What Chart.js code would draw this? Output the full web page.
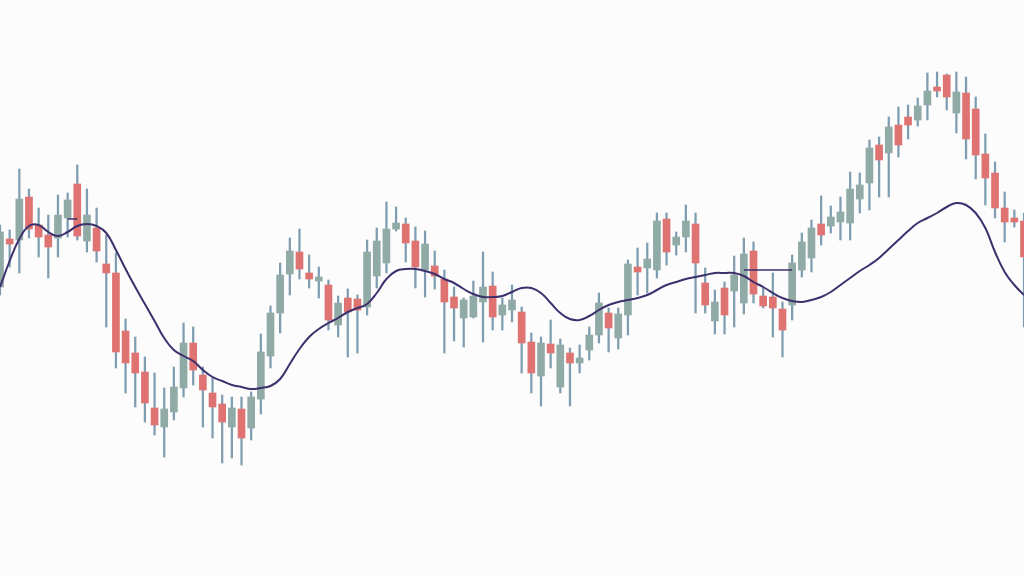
<!DOCTYPE html>
<html>
<head>
<meta charset="utf-8">
<script src="https://cdn.jsdelivr.net/npm/chart.js@4/dist/chart.umd.min.js"></script>
<style>
  html, body { margin: 0; padding: 0; background: #fcfcfd; }
  #wrap { width: 1024px; height: 576px; position: relative; }
</style>
</head>
<body>
<div id="wrap"><canvas id="c"></canvas></div>
<script>
const openP = [131.3,136.1,136.0,140.3,137.5,136.5,136.2,138.2,141.6,135.9,137.2,133.6,132.7,126.9,124.7,122.8,119.2,117.3,118.8,121.2,125.7,122.5,120.7,119.6,117.3,119.1,117.2,120.1,124.4,128.7,132.6,134.8,132.7,131.9,131.5,127.5,130.2,130.1,129.3,132.4,133.7,137.1,137.6,135.9,133.0,133.4,132.1,130.3,128.2,128.3,129.8,131.4,128.5,129.0,128.8,125.8,122.4,125.6,121.3,124.7,123.7,125.0,126.5,128.7,126.2,128.5,133.3,133.2,133.0,138.1,135.5,136.3,137.6,131.7,127.9,131.2,130.9,129.7,134.9,130.4,130.3,129.1,129.5,133.0,134.2,137.6,137.4,137.8,137.7,140.1,141.7,145.5,144.7,147.5,148.3,148.0,149.5,151.3,152.5,148.7,150.7,149.1,144.6,142.7,139.2,138.2,137.9];
const highP = [137.5,137.0,143.1,141.1,139.2,138.5,140.5,140.7,143.5,141.1,139.2,136.5,134.7,128.1,126.3,124.3,122.7,121.2,123.3,127.7,127.3,123.3,122.2,120.5,120.3,120.3,120.8,126.6,129.4,133.7,136.2,137.1,134.5,133.3,132.0,130.4,131.1,130.5,136.0,137.2,139.8,139.3,138.2,137.3,136.9,134.9,133.0,131.3,130.2,131.9,134.8,132.8,130.2,131.5,129.3,126.7,126.3,128.0,126.1,125.2,125.5,127.3,130.7,129.2,129.2,134.0,135.2,135.7,138.7,138.7,136.8,139.5,138.7,133.2,131.0,131.8,134.4,136.2,135.8,131.3,132.7,129.8,134.5,136.7,138.0,140.4,139.4,140.3,142.8,142.7,146.0,146.3,148.3,149.3,149.5,150.2,152.7,152.8,152.6,152.8,152.3,150.3,146.6,143.8,140.8,139.0,138.7];
const lowP = [130.5,133.3,132.7,136.2,134.3,132.2,134.3,136.3,136.0,134.8,133.8,127.3,123.2,120.7,119.3,117.8,116.5,114.3,118.0,120.3,121.5,117.3,116.2,113.7,114.2,113.5,116.0,118.6,123.2,126.7,130.5,132.1,131.2,130.2,127.0,126.3,124.3,124.7,128.5,131.2,132.7,136.9,133.8,131.2,130.3,131.1,124.7,125.9,125.3,128.2,125.8,127.0,127.0,127.8,122.7,120.7,119.4,123.2,120.7,119.4,122.7,124.0,125.7,124.8,125.1,126.5,130.5,130.7,132.2,133.5,134.5,134.8,128.7,128.7,126.6,126.6,127.3,128.6,129.7,129.2,126.3,124.3,128.0,132.3,132.8,135.5,136.7,136.0,136.0,138.7,139.0,140.3,140.3,144.3,146.1,147.4,148.0,150.3,149.0,146.7,144.1,142.1,139.5,138.2,135.8,137.3,127.3];
const closeP = [136.8,135.6,140.1,137.1,136.3,135.3,138.5,140.0,136.4,138.5,134.9,132.7,124.8,123.7,122.7,119.7,117.5,119.1,121.3,125.7,123.0,121.0,119.3,117.8,119.2,116.2,120.3,124.8,128.7,132.5,134.9,133.1,132.1,132.3,128.0,129.7,128.8,129.0,134.8,135.9,137.1,137.7,135.7,133.3,135.6,132.4,129.8,129.2,130.0,130.4,131.3,128.3,129.5,130.0,125.7,122.7,125.7,124.7,125.5,123.7,124.2,126.5,129.7,127.2,128.6,133.6,132.8,134.1,137.9,134.8,136.3,137.9,133.7,129.5,129.8,128.5,132.5,134.6,130.6,129.4,129.2,127.0,133.7,135.8,137.2,136.5,138.3,138.8,141.1,141.5,145.2,144.0,147.3,145.5,147.5,149.4,150.9,150.9,150.3,150.8,146.1,144.5,142.2,139.2,137.8,137.8,134.3];
const movingAvg = [131.3,133.9,136.1,137.4,137.5,136.8,136.4,136.8,137.4,137.6,137.4,136.7,135.0,133.1,131.3,129.6,127.9,126.2,125.0,124.4,123.9,123.0,122.3,121.9,121.5,121.3,121.1,121.2,121.4,122.1,123.6,125.1,126.3,127.1,127.7,128.2,128.8,129.2,129.6,130.7,132.1,132.9,133.1,133.1,132.9,132.6,132.1,131.7,131.1,130.6,130.3,130.3,130.4,130.8,131.2,131.2,130.7,129.7,128.7,128.1,128.0,128.4,129.0,129.5,129.8,130.0,130.2,130.5,131.0,131.5,131.8,132.1,132.3,132.5,132.7,132.7,132.7,132.4,131.8,131.3,130.7,130.2,129.9,129.8,130.0,130.3,130.8,131.5,132.2,132.9,133.5,134.2,135.1,136.0,136.9,137.7,138.2,138.7,139.3,139.7,139.5,138.7,137.2,134.8,132.8,131.5,130.5];
// short flat stray segments of the average line visible in the picture
const flatSegments = {7: 138.1, 8: 138.1, 77: 133.0, 78: 133.0, 79: 133.0, 80: 133.0, 81: 133.0, 82: 133.0};

const categories = openP.map((_, i) => 'Day ' + (i + 1));
const segmentSeries = categories.map((_, i) => (i in flatSegments ? flatSegments[i] : null));

const UP_BODY = '#90aaa5';
const DOWN_BODY = '#df7371';
const WICK = '#7f9db0';

const bodies = openP.map((o, i) => [o, closeP[i]]);
const wicks = lowP.map((l, i) => [l, highP[i]]);
const bodyColors = openP.map((o, i) => (closeP[i] >= o ? UP_BODY : DOWN_BODY));

new Chart(document.getElementById('c'), {
  type: 'bar',
  data: {
    labels: categories,
    datasets: [
      {
        type: 'line',
        label: 'Moving average',
        data: movingAvg,
        borderColor: '#3d306c',
        borderWidth: 2,
        pointRadius: 0,
        tension: 0.45,
        fill: false,
        order: 0
      },
      {
        type: 'line',
        label: 'Segment',
        data: segmentSeries,
        borderColor: '#3d306c',
        borderWidth: 1.6,
        pointRadius: 0,
        spanGaps: false,
        fill: false,
        order: 0
      },
      {
        label: 'Body',
        data: bodies,
        backgroundColor: bodyColors,
        borderWidth: 0,
        barThickness: 7,
        grouped: false,
        order: 1
      },
      {
        label: 'Wick',
        data: wicks,
        backgroundColor: WICK,
        borderWidth: 0,
        barThickness: 1.6,
        grouped: false,
        order: 2
      }
    ]
  },
  options: {
    responsive: true,
    maintainAspectRatio: false,
    animation: false,
    layout: { padding: 0 },
    plugins: { legend: { display: false }, tooltip: { enabled: false } },
    scales: {
      x: { display: false, offset: false, grid: { display: false } },
      y: { display: false, min: 102.4, max: 160, grid: { display: false } }
    }
  }
});
</script>
</body>
</html>
